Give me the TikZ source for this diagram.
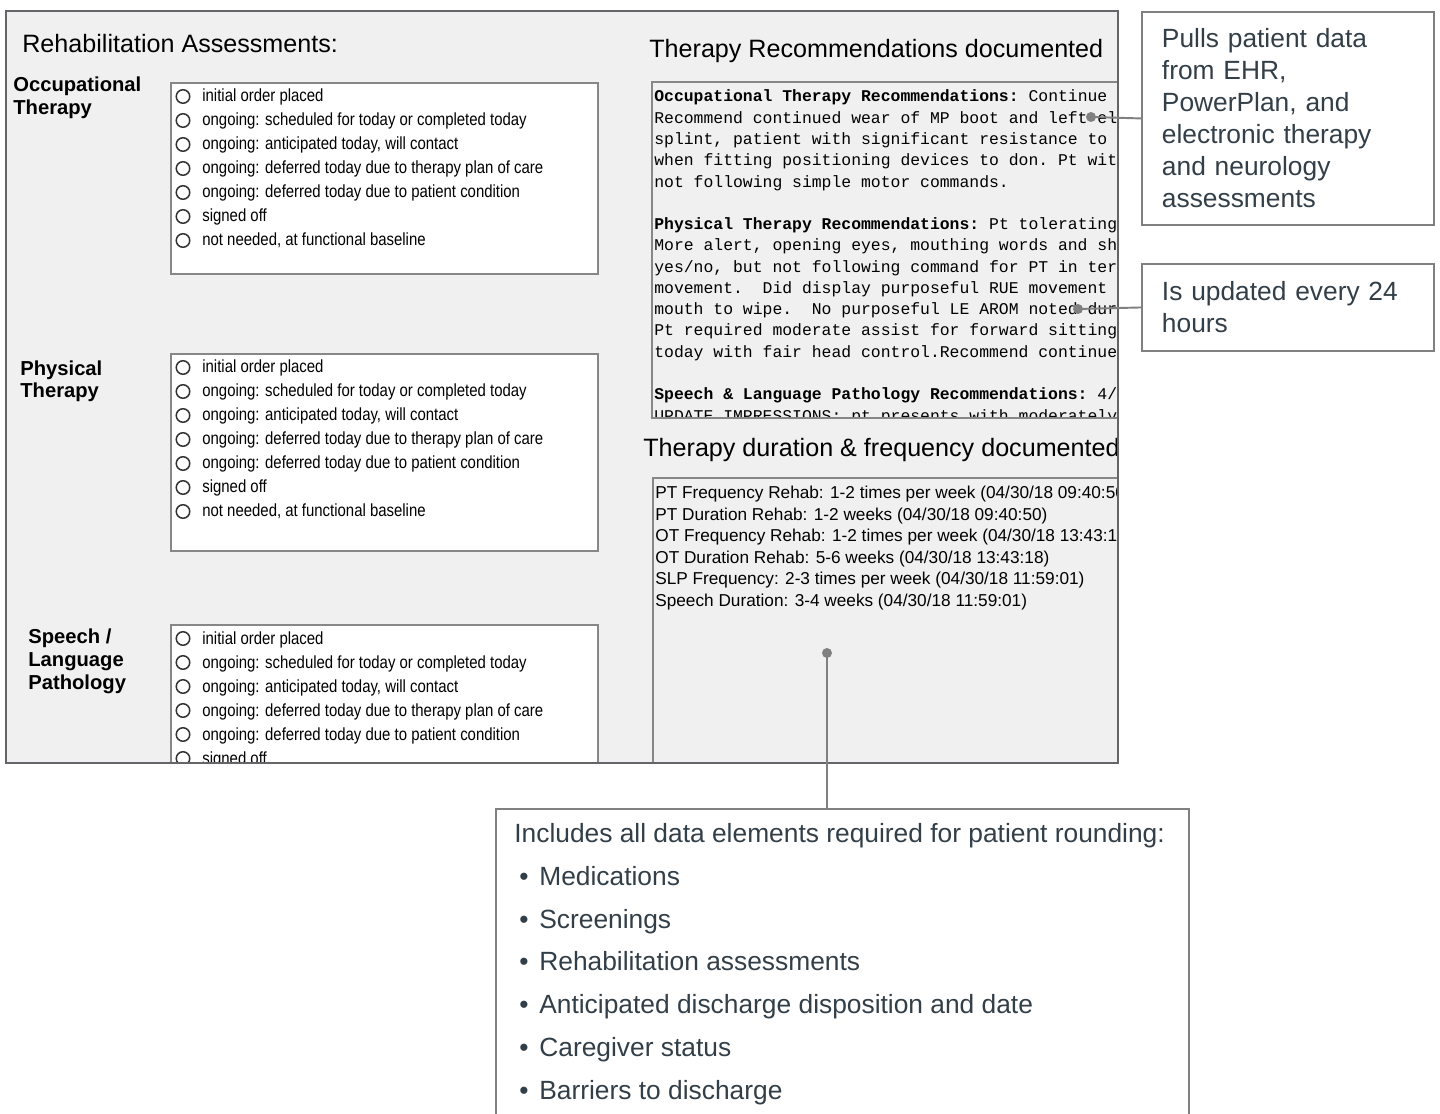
\documentclass[tikz,border=0pt]{standalone}
\usepackage{fontspec}
\setmainfont{Liberation Sans}
\newfontfamily\narrowfont[FakeStretch=0.85]{Liberation Sans}
\newfontfamily\recfont{Liberation Mono}
\usetikzlibrary{positioning}

\definecolor{panelgray}{RGB}{240,240,240}
\definecolor{frameline}{RGB}{100,100,105}
\definecolor{listline}{RGB}{135,135,135}
\definecolor{noteline}{RGB}{128,128,128}
\definecolor{notetext}{RGB}{51,63,72}

\newcommand\optlist{initial order placed,
  {ongoing: scheduled for today or completed today},
  {ongoing: anticipated today, will contact},
  {ongoing: deferred today due to therapy plan of care},
  {ongoing: deferred today due to patient condition},
  signed off,
  {not needed, at functional baseline}}

% one box of radio options, #1 = name, #2 = y of first option
\newcommand\radiolist[2]{%
  \foreach \opt [count=\i] in \optlist {
    \node[radio] (#1-r\i) at (183,{#2+24*(\i-1)}) {};
    \node[opt] (#1-t\i) at (202,{#2+5.5+24*(\i-1)}) {\opt};
  }}

\begin{document}
\begin{tikzpicture}[x=0.02cm, y=-0.02cm,
  panel/.style={draw=frameline, line width=0.8pt},
  listbox/.style={draw=listline, fill=white, line width=0.8pt},
  textbox/.style={draw=listline, line width=0.8pt},
  radio/.style={circle, draw=black!80, fill=white, line width=0.85pt,
    minimum size=0.27cm, inner sep=0pt},
  opt/.style={anchor=base west, inner sep=0pt,
    font=\narrowfont\fontsize{10}{12}\selectfont},
  group/.style={anchor=base west, inner sep=0pt, align=left,
    font=\bfseries\fontsize{11.5}{13}\selectfont},
  heading/.style={anchor=base west, inner sep=0pt,
    font=\fontsize{14.3}{17}\selectfont},
  recline/.style={anchor=base west, inner sep=0pt,
    font=\recfont\frenchspacing\fontsize{9.34}{11}\selectfont},
  durline/.style={anchor=base west, inner sep=0pt,
    font=\fontsize{9.8}{12}\selectfont},
  note/.style={draw=noteline, line width=1.1pt, fill=white, text=notetext,
    inner xsep=0.4cm, align=left, anchor=north west,
    font=\fontsize{15}{18.2}\selectfont},
  link/.style={draw=noteline, line width=1.1pt},
  dotmark/.style={fill=noteline}
]
\fill[white] (0,0) rectangle (1440,1114);
\useasboundingbox (0,0) rectangle (1440,1114);

% screenshot panel
\fill[panelgray] (6,11) rectangle (1118,763);
\begin{scope}
  \clip (6,11) rectangle (1118,763);

  \node[heading] (rehabtitle) at (22,53) {Rehabilitation Assessments:};

  % labels sit on the baseline of their last line
  \node[group] (otlabel) at (13,114.5) {Occupational\\Therapy};
  \draw[listbox] (171,83) rectangle (598,274);
  \radiolist{ot}{96.5}

  \node[group] (ptlabel) at (20,398) {Physical\\Therapy};
  \draw[listbox] (171,354) rectangle (598,551);
  \radiolist{pt}{367.5}

  \node[group] (slplabel) at (28,689) {Speech /\\Language\\Pathology};
  \draw[listbox] (171,625) rectangle (598,800);
  \radiolist{slp}{638.5}

  \node[heading] (rectitle) at (649,58) {Therapy Recommendations documented};
  \draw[textbox] (652,82) rectangle (1130,418);
  \begin{scope}
    \clip (653,83) rectangle (1118,417);
    \foreach \ln [count=\i] in {
      {\textbf{Occupational Therapy Recommendations:} Continue},
      {Recommend continued wear of MP boot and left el},
      {splint, patient with significant resistance to},
      {when fitting positioning devices to don. Pt wit},
      {not following simple motor commands.},
      {},
      {\textbf{Physical Therapy Recommendations:} Pt tolerating},
      {More alert, opening eyes, mouthing words and sh},
      {yes/no, but not following command for PT in ter},
      {movement.~~Did display purposeful RUE movement},
      {mouth to wipe.~~No purposeful LE AROM noted dur},
      {Pt required moderate assist for forward sitting},
      {today with fair head control.Recommend continue},
      {},
      {\textbf{Speech \& Language Pathology Recommendations:} 4/},
      {UPDATE IMPRESSIONS: pt presents with moderately}}
      \node[recline] (rec\i) at (654,{102+21.27*(\i-1)}) {\ln};
  \end{scope}

  \node[heading] (durtitle) at (643,457) {Therapy duration \& frequency documented};
  \draw[textbox] (653,478) rectangle (1130,800);
  \foreach \ln [count=\i] in {
    {PT Frequency Rehab: 1-2 times per week (04/30/18 09:40:50)},
    {PT Duration Rehab: 1-2 weeks (04/30/18 09:40:50)},
    {OT Frequency Rehab: 1-2 times per week (04/30/18 13:43:18)},
    {OT Duration Rehab: 5-6 weeks (04/30/18 13:43:18)},
    {SLP Frequency: 2-3 times per week (04/30/18 11:59:01)},
    {Speech Duration: 3-4 weeks (04/30/18 11:59:01)}}
    \node[durline] (dur\i) at (655,{499+21.4*(\i-1)}) {\ln};
\end{scope}
\draw[panel] (6,11) rectangle (1118,763);

% callouts
\node[note, minimum width=5.84cm, minimum height=4.26cm, text width=5.04cm]
  (pullbox) at (1141,11) {Pulls patient data\\from EHR,\\PowerPlan, and\\electronic therapy\\and neurology\\assessments};
\node[note, minimum width=5.84cm, minimum height=1.74cm, text width=5.04cm]
  (updbox) at (1141,263) {Is updated every 24\\hours};
\node[note, minimum width=13.86cm, minimum height=6.2cm] (roundbox) at (495,808) {};
\node[anchor=base west, inner sep=0pt, text=notetext, align=left,
  font=\fontsize{15}{24.3}\selectfont] (roundtext) at (514,1099)
  {Includes all data elements required for patient rounding:\\
   \hspace*{0.1cm}\makebox[0.4cm][l]{\textbullet}Medications\\
   \hspace*{0.1cm}\makebox[0.4cm][l]{\textbullet}Screenings\\
   \hspace*{0.1cm}\makebox[0.4cm][l]{\textbullet}Rehabilitation assessments\\
   \hspace*{0.1cm}\makebox[0.4cm][l]{\textbullet}Anticipated discharge disposition and date\\
   \hspace*{0.1cm}\makebox[0.4cm][l]{\textbullet}Caregiver status\\
   \hspace*{0.1cm}\makebox[0.4cm][l]{\textbullet}Barriers to discharge};

\coordinate (ehrdot) at (1091,117);
\coordinate (updot) at (1078,309);
\coordinate (durdot) at (827,653);
\draw[link] (ehrdot) -- (pullbox.west);
\draw[link] (updot) -- (updbox.west);
\draw[link] (durdot) -- (durdot |- roundbox.north);
\foreach \d in {ehrdot,updot,durdot}
  \fill[dotmark] (\d) circle (0.1cm);
\end{tikzpicture}
\end{document}
